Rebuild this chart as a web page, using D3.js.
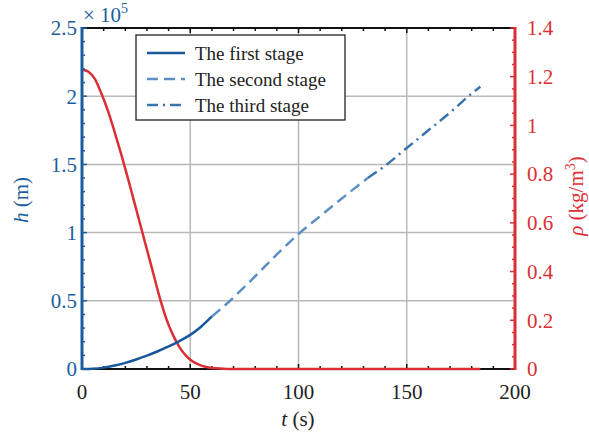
<!DOCTYPE html>
<html>
<head>
<meta charset="utf-8">
<script src="https://cdn.jsdelivr.net/npm/d3@7"></script>
<style>
  html, body { margin: 0; padding: 0; background: #fff; }
</style>
</head>
<body>
<svg id="chart" width="589" height="441"></svg>
<script>
// Altitude (m) for the three flight stages
const stage1T = [0, 5, 10, 15, 20, 25, 30, 35, 40, 45, 50, 55, 60];
const stage1H = [0, 200, 1000, 2500, 4500, 7000, 9800, 13000, 16500, 20500, 25000, 31000, 38500];
const stage2T = [60, 68, 80, 90, 100, 110, 120, 132];
const stage2H = [38500, 49500, 68000, 84000, 99000, 112000, 125000, 140000];
const stage3T = [132, 140, 150, 160, 170, 180, 184];
const stage3H = [140000, 149000, 162000, 175000, 188000, 202000, 207000];

// Atmospheric density (kg/m^3) along the trajectory
const rhoT = [0, 3, 6, 9, 12, 15, 18, 21, 24, 27, 30, 33, 36, 39, 42, 45, 48, 51, 54, 57, 60, 65, 70, 80, 184];
const rhoV = [1.230, 1.220, 1.190, 1.130, 1.060, 0.975, 0.885, 0.790, 0.690, 0.590, 0.490, 0.390, 0.290, 0.205, 0.140, 0.090, 0.055, 0.032, 0.018, 0.009, 0.004, 0.0015, 0.0005, 0, 0];

// Tick values
const xTicks = [0, 50, 100, 150, 200];
const hTicks = [0, 0.5e5, 1e5, 1.5e5, 2e5, 2.5e5];
const rhoTicks = [0, 0.2, 0.4, 0.6, 0.8, 1, 1.2, 1.4];

const legendLabels = ["The first stage", "The second stage", "The third stage"];

const C = {
  axisBlue: "#1b5e9e",
  s1: "#18579a",
  s2: "#5c8fc4",
  s3: "#3b74ad",
  red: "#db2f35",
  grid: "#b9b9b9",
  text: "#222"
};
const FONT = '"Liberation Serif"';

const svg = d3.select("#chart");
const L = 82, R = 515, T = 28, B = 369;

const x = d3.scaleLinear().domain([0, 200]).range([L, R]);
const yH = d3.scaleLinear().domain([0, 2.5e5]).range([B, T]);
const yR = d3.scaleLinear().domain([0, 1.4]).range([B, T]);

// grid
const grid = svg.append("g");
grid.selectAll(".gx").data(xTicks.slice(1, -1)).enter().append("line")
  .attr("x1", d => x(d)).attr("x2", d => x(d)).attr("y1", T).attr("y2", B)
  .attr("stroke", C.grid).attr("stroke-width", 1.5);
grid.selectAll(".gy").data(hTicks.slice(1, -1)).enter().append("line")
  .attr("x1", L).attr("x2", R).attr("y1", d => yH(d)).attr("y2", d => yH(d))
  .attr("stroke", C.grid).attr("stroke-width", 1.5);

// frame: top and bottom (black) with inward ticks
function hAxis(yPos, dir) {
  const g = svg.append("g");
  const minor = d3.range(0, 201, 10);
  g.selectAll("line.t").data(minor).enter().append("line")
    .attr("x1", d => x(d)).attr("x2", d => x(d))
    .attr("y1", yPos).attr("y2", d => yPos + dir * (d % 50 === 0 ? 5 : 3))
    .attr("stroke", "#111").attr("stroke-width", 1.5);
  g.append("line").attr("x1", L).attr("x2", R).attr("y1", yPos).attr("y2", yPos)
    .attr("stroke", "#111").attr("stroke-width", 2.2);
}
hAxis(T, 1);
hAxis(B, -1);

// curves
const lineH = d3.line().x(d => x(d[0])).y(d => yH(d[1])).curve(d3.curveMonotoneX);
const lineR = d3.line().x(d => x(d[0])).y(d => yR(d[1])).curve(d3.curveMonotoneX);

svg.append("path").datum(rhoT.map((t, i) => [t, rhoV[i]]))
  .attr("d", lineR).attr("fill", "none").attr("stroke", C.red).attr("stroke-width", 2.5);

svg.append("path").datum(stage1T.map((t, i) => [t, stage1H[i]]))
  .attr("d", lineH).attr("fill", "none").attr("stroke", C.s1).attr("stroke-width", 2.5);
svg.append("path").datum(stage2T.map((t, i) => [t, stage2H[i]]))
  .attr("d", lineH).attr("fill", "none").attr("stroke", C.s2).attr("stroke-width", 2.5)
  .attr("stroke-dasharray", "11,6");
svg.append("path").datum(stage3T.map((t, i) => [t, stage3H[i]]))
  .attr("d", lineH).attr("fill", "none").attr("stroke", C.s3).attr("stroke-width", 2.5)
  .attr("stroke-dasharray", "11,5,2,5");

// left axis (blue)
const left = svg.append("g");
left.selectAll("line.m").data(d3.range(0, 2.5001e5, 0.1e5)).enter().append("line")
  .attr("x1", L).attr("x2", (d, i) => L + (i % 5 === 0 ? 5 : 3))
  .attr("y1", d => yH(d)).attr("y2", d => yH(d))
  .attr("stroke", C.axisBlue).attr("stroke-width", 1.5);
left.append("line").attr("x1", L).attr("x2", L).attr("y1", T - 1).attr("y2", B + 1)
  .attr("stroke", C.axisBlue).attr("stroke-width", 3);
left.selectAll("text").data(hTicks).enter().append("text")
  .attr("x", L - 5).attr("y", d => yH(d)).attr("dy", "0.35em")
  .attr("text-anchor", "end").attr("font-size", 21).attr("fill", C.axisBlue)
  .text(d => d3.format("~g")(d / 1e5));

// exponent label
const ex = svg.append("text").attr("x", 83).attr("y", 22).attr("font-size", 21).attr("fill", C.axisBlue);
ex.append("tspan").text("× 10");
ex.append("tspan").attr("dy", -9).attr("font-size", 14).text("5");

// right axis (red)
const right = svg.append("g");
right.selectAll("line.m").data(d3.range(0, 1.4001, 0.05)).enter().append("line")
  .attr("x1", R).attr("x2", (d, i) => R - (i % 4 === 0 ? 5 : 3))
  .attr("y1", d => yR(d)).attr("y2", d => yR(d))
  .attr("stroke", C.red).attr("stroke-width", 1.5);
right.append("line").attr("x1", R).attr("x2", R).attr("y1", T - 1).attr("y2", B + 1)
  .attr("stroke", C.red).attr("stroke-width", 3);
right.selectAll("text").data(rhoTicks).enter().append("text")
  .attr("x", R + 12).attr("y", d => yR(d)).attr("dy", "0.35em")
  .attr("text-anchor", "start").attr("font-size", 21).attr("fill", C.red)
  .text(d => d3.format("~g")(d));

// bottom tick labels
svg.append("g").selectAll("text").data(xTicks).enter().append("text")
  .attr("x", d => x(d)).attr("y", 399).attr("text-anchor", "middle")
  .attr("font-size", 21).attr("fill", C.text).text(d => d);

// axis titles
const xt = svg.append("text").attr("x", 298).attr("y", 426).attr("text-anchor", "middle")
  .attr("font-size", 21).attr("fill", C.text);
xt.append("tspan").attr("font-style", "italic").text("t");
xt.append("tspan").text(" (s)");

const ht = svg.append("text").attr("transform", "translate(28,200) rotate(-90)")
  .attr("text-anchor", "middle").attr("font-size", 21).attr("fill", C.axisBlue);
ht.append("tspan").attr("font-style", "italic").text("h");
ht.append("tspan").text(" (m)");

const rt = svg.append("text").attr("transform", "translate(583,196) rotate(-90)")
  .attr("text-anchor", "middle").attr("font-size", 21).attr("fill", C.red);
rt.append("tspan").attr("font-style", "italic").text("ρ");
rt.append("tspan").text(" (kg/m");
rt.append("tspan").attr("dy", -8).attr("font-size", 14).text("3");
rt.append("tspan").attr("dy", 8).text(")");

// legend
const lg = svg.append("g");
lg.append("rect").attr("x", 136).attr("y", 35).attr("width", 209).attr("height", 85)
  .attr("fill", "#fff").attr("stroke", "#222").attr("stroke-width", 1.3);
const styles = [
  { c: C.s1, dash: null },
  { c: C.s2, dash: "11,6" },
  { c: C.s3, dash: "11,5,2,5" }
];
legendLabels.forEach((lab, i) => {
  const yy = 53 + i * 26;
  lg.append("line").attr("x1", 147).attr("x2", 185).attr("y1", yy).attr("y2", yy)
    .attr("stroke", styles[i].c).attr("stroke-width", 2.5)
    .attr("stroke-dasharray", styles[i].dash);
  lg.append("text").attr("x", 195).attr("y", yy).attr("dy", "0.35em")
    .attr("font-size", 19).attr("fill", C.text).text(lab);
});

svg.selectAll("text").style("font-family", FONT);
</script>
</body>
</html>
